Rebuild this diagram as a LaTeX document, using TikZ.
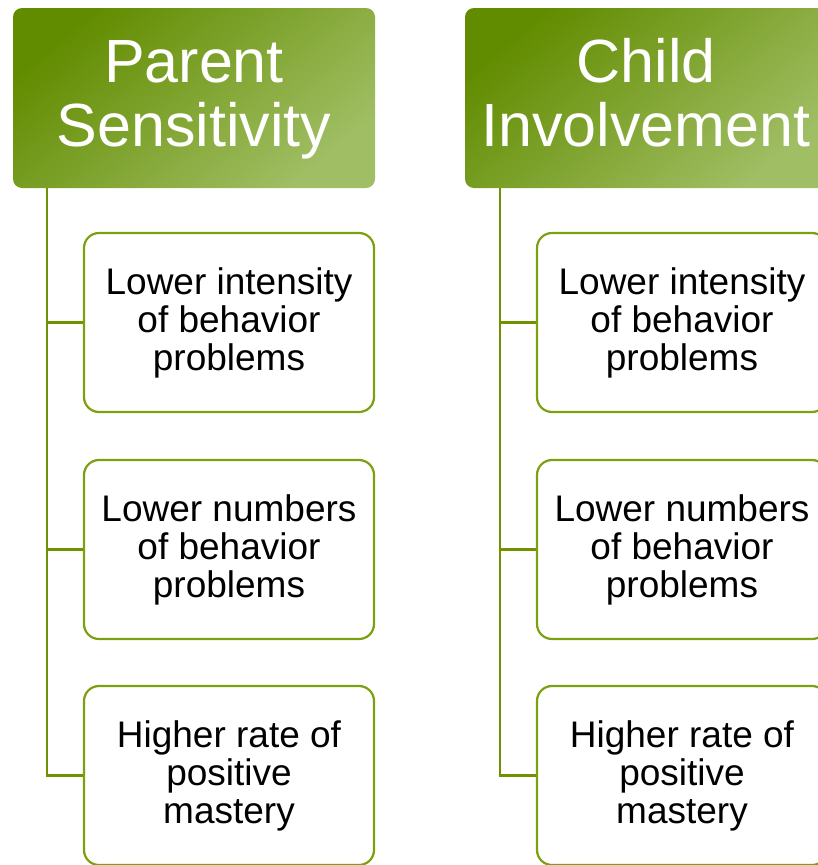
\documentclass[tikz,border=0pt]{standalone}
\usepackage{fontspec}
\setmainfont{Liberation Sans}
\definecolor{hdark}{RGB}{98,140,0}
\definecolor{hlight}{RGB}{160,190,100}
\definecolor{lgreen}{RGB}{112,146,0}
\definecolor{bgreen}{RGB}{124,160,16}

\begin{document}
\begin{tikzpicture}[x=1pt,y=-1pt]
\tikzstyle{every node}+=[inner sep=0pt]
\tikzstyle{head}=[rectangle, rounded corners=9pt, minimum width=362pt, minimum height=180pt, top color=hdark, bottom color=hlight, shading angle=40, text=white, align=center, font=\fontsize{61}{64}\selectfont]
\tikzstyle{item}=[rectangle, rounded corners=15pt, draw=bgreen, line width=2.2pt, fill=white, minimum width=290pt, minimum height=179pt, align=center, font=\fontsize{37}{38}\selectfont]
\tikzstyle{conn}=[lgreen, line width=2.2pt]
\useasboundingbox (0,0) rectangle (817,865);
\node[head] (ps) at (194,98) {\rule{0pt}{53pt}Parent\\Sensitivity\strut};
\node[head] (ci) at (646,98) {\rule{0pt}{53pt}Child\\Involvement\strut};
\node[item] (ps1) at (229,322.5) {Lower intensity\\of behavior\\problems};
\node[item] (ps2) at (229,549.5) {Lower numbers\\of behavior\\problems};
\node[item] (ps3) at (229,775.5) {Higher rate of\\positive\\mastery};
\node[item] (ci1) at (682,322.5) {Lower intensity\\of behavior\\problems};
\node[item] (ci2) at (682,549.5) {Lower numbers\\of behavior\\problems};
\node[item] (ci3) at (682,775.5) {Higher rate of\\positive\\mastery};
\foreach \i in {1,2,3} {
\draw [conn] ([xshift=34pt]ps.south west) |- (ps\i.west);
\draw [conn] ([xshift=35pt]ci.south west) |- (ci\i.west);
}
\end{tikzpicture}
\end{document}
